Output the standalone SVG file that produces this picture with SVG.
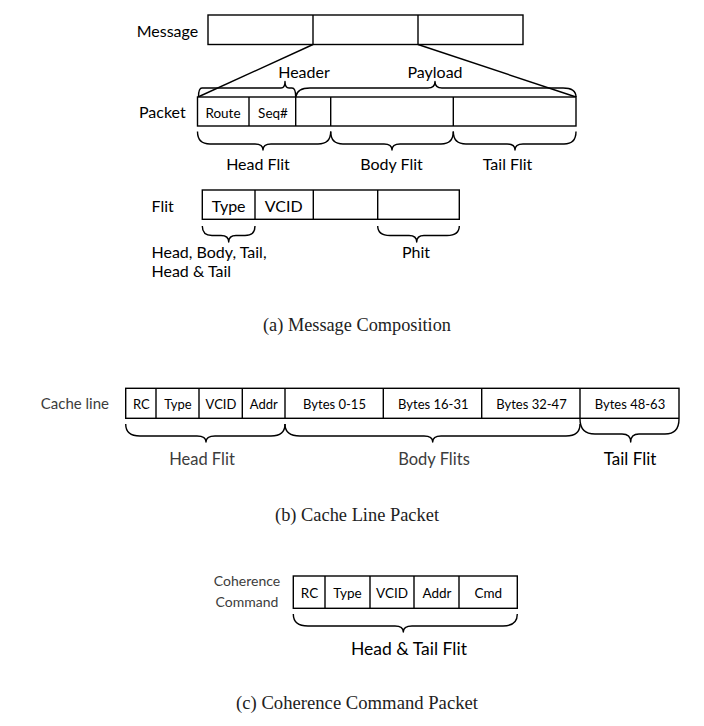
<svg xmlns="http://www.w3.org/2000/svg" width="704" height="726" viewBox="0 0 704 726">
<style>
  .box { fill: #fff; stroke: #000; stroke-width: 1.4; }
  .div { stroke: #000; stroke-width: 1.4; fill: none; }
  .brace { fill: none; stroke: #000; stroke-width: 1.4; stroke-linejoin: round; }
  .lbl { font-family: Lato, "Liberation Sans", sans-serif; font-size: 16px; fill: #000; }
  .in { font-family: Lato, "Liberation Sans", sans-serif; font-size: 13.5px; fill: #000; text-anchor: middle; }
  .mid { text-anchor: middle; }
  .gray { fill: #3c3c3c; }
  .cap { font-family: "Liberation Serif", serif; font-size: 18px; fill: #222; text-anchor: middle; }
</style>
<rect width="704" height="726" fill="#fff"/>

<!-- (a) Message composition -->
<g id="message">
  <text class="lbl" x="136.7" y="37">Message</text>
  <rect class="box" x="208" y="15" width="315" height="29.5"/>
  <line class="div" x1="313" y1="15" x2="313" y2="44.5"/>
  <line class="div" x1="418" y1="15" x2="418" y2="44.5"/>
</g>

<g id="connectors">
  <line class="div" x1="313" y1="44.5" x2="198" y2="97"/>
  <line class="div" x1="418" y1="44.5" x2="576" y2="97"/>
</g>

<g id="packet">
  <text class="lbl" x="139" y="118">Packet</text>
  <rect class="box" x="197.5" y="97" width="378.5" height="29"/>
  <line class="div" x1="249" y1="97" x2="249" y2="126"/>
  <line class="div" x1="295.7" y1="97" x2="295.7" y2="126"/>
  <line class="div" x1="330.7" y1="97" x2="330.7" y2="126"/>
  <line class="div" x1="453.3" y1="97" x2="453.3" y2="126"/>
  <text class="in" x="223" y="117.5">Route</text>
  <text class="in" x="273" y="117.5">Seq#</text>
</g>

<g id="header">
  <path class="brace" d="M198.5 97 Q198.5 88 202 88 L281 88 Q285 88 285 81.5 Q285 88 289 88 L292 88 Q295.7 88 295.7 97"/>
  <text class="lbl mid" x="304" y="78">Header</text>
</g>

<g id="payload">
  <path class="brace" d="M295.7 97 Q297 88 310 88 L428 88 Q435 88 435 81.5 Q435 88 442 88 L563 88 Q576 88 576 97"/>
  <text class="lbl mid" x="435" y="78">Payload</text>
</g>

<g id="head-flit">
  <path class="brace" d="M197.5 131.5 Q197.5 144 210 144 L255 144 Q263 144 263 150 Q263 144 271 144 L318 144 Q330.7 144 330.7 131.5"/>
  <text class="lbl mid" x="258" y="170">Head Flit</text>
</g>
<g id="body-flit">
  <path class="brace" d="M330.7 131.5 Q330.7 144 343 144 L384 144 Q392 144 392 150 Q392 144 400 144 L441 144 Q453.3 144 453.3 131.5"/>
  <text class="lbl mid" x="391.5" y="170">Body Flit</text>
</g>
<g id="tail-flit">
  <path class="brace" d="M453.3 131.5 Q453.3 144 466 144 L507 144 Q515 144 515 150 Q515 144 523 144 L564 144 Q576 144 576 131.5"/>
  <text class="lbl mid" x="507.5" y="170">Tail Flit</text>
</g>

<g id="flit">
  <text class="lbl" x="151.5" y="212">Flit</text>
  <rect class="box" x="202.3" y="190" width="257" height="29.3"/>
  <line class="div" x1="255" y1="190" x2="255" y2="219.3"/>
  <line class="div" x1="313.3" y1="190" x2="313.3" y2="219.3"/>
  <line class="div" x1="377.7" y1="190" x2="377.7" y2="219.3"/>
  <text class="lbl mid" x="228.7" y="211.5">Type</text>
  <text class="lbl mid" x="283.7" y="211.5">VCID</text>
</g>

<g id="type-values">
  <path class="brace" d="M202.3 226 Q202.3 235.5 212 235.5 L221 235.5 Q228.7 235.5 228.7 242 Q228.7 235.5 236 235.5 L245 235.5 Q255 235.5 255 226"/>
  <text class="lbl" x="151.5" y="258">Head, Body, Tail,</text>
  <text class="lbl" x="151.5" y="277">Head &amp; Tail</text>
</g>

<g id="phit">
  <path class="brace" d="M377.7 226 Q377.7 235.5 390 235.5 L409 235.5 Q416.7 235.5 416.7 242 Q416.7 235.5 424 235.5 L447 235.5 Q459.3 235.5 459.3 226"/>
  <text class="lbl mid" x="416" y="258">Phit</text>
</g>

<text class="cap" x="357" y="331" textLength="188" lengthAdjust="spacingAndGlyphs">(a) Message Composition</text>

<!-- (b) Cache line packet -->
<g id="cache-line">
  <text class="lbl gray" x="109" y="409" text-anchor="end" style="font-size:15px">Cache line</text>
  <rect class="box" x="125.7" y="388.3" width="553.3" height="30"/>
  <line class="div" x1="156" y1="388.3" x2="156" y2="418.3"/>
  <line class="div" x1="199" y1="388.3" x2="199" y2="418.3"/>
  <line class="div" x1="242.3" y1="388.3" x2="242.3" y2="418.3"/>
  <line class="div" x1="285" y1="388.3" x2="285" y2="418.3"/>
  <line class="div" x1="383.3" y1="388.3" x2="383.3" y2="418.3"/>
  <line class="div" x1="481.7" y1="388.3" x2="481.7" y2="418.3"/>
  <line class="div" x1="580" y1="388.3" x2="580" y2="418.3"/>
  <text class="in" x="141.3" y="408.5" style="font-size:13px">RC</text>
  <text class="in" x="178" y="408.5" style="font-size:13px">Type</text>
  <text class="in" x="221" y="408.5" style="font-size:13px">VCID</text>
  <text class="in" x="263.7" y="408.5" style="font-size:13px">Addr</text>
  <text class="in" x="334.5" y="408.5" style="font-size:13px">Bytes 0-15</text>
  <text class="in" x="433.3" y="408.5" style="font-size:13px">Bytes 16-31</text>
  <text class="in" x="531.5" y="408.5" style="font-size:13px">Bytes 32-47</text>
  <text class="in" x="630" y="408.5" style="font-size:13px">Bytes 48-63</text>
</g>

<g id="cl-head-flit">
  <path class="brace" d="M125.7 424 Q125.7 436 140 436 L197 436 Q206 436 206 442 Q206 436 215 436 L271 436 Q285 436 285 424"/>
  <text class="lbl gray mid" x="202" y="465" style="font-size:16.5px">Head Flit</text>
</g>
<g id="cl-body-flits">
  <path class="brace" d="M285 424 Q285 436 300 436 L424 436 Q432.7 436 432.7 442 Q432.7 436 441 436 L566 436 Q580 436 580 424"/>
  <text class="lbl gray mid" x="434" y="465" style="font-size:16.5px">Body Flits</text>
</g>
<g id="cl-tail-flit">
  <path class="brace" d="M580 419 Q580 434 595 434 L622 434 Q630.7 434 630.7 442 Q630.7 434 639 434 L665 434 Q679 434 679 419"/>
  <text class="lbl mid" x="630" y="465" style="font-size:17px">Tail Flit</text>
</g>

<text class="cap" x="357" y="521" textLength="164" lengthAdjust="spacingAndGlyphs">(b) Cache Line Packet</text>

<!-- (c) Coherence command packet -->
<g id="coherence">
  <text class="lbl gray mid" x="247" y="586" style="font-size:14px">Coherence</text>
  <text class="lbl gray mid" x="247" y="607" style="font-size:14px">Command</text>
  <rect class="box" x="293.3" y="576" width="224" height="32.3"/>
  <line class="div" x1="325" y1="576" x2="325" y2="608.3"/>
  <line class="div" x1="370" y1="576" x2="370" y2="608.3"/>
  <line class="div" x1="414" y1="576" x2="414" y2="608.3"/>
  <line class="div" x1="459" y1="576" x2="459" y2="608.3"/>
  <text class="in" x="309.5" y="598">RC</text>
  <text class="in" x="347.5" y="598">Type</text>
  <text class="in" x="392" y="598">VCID</text>
  <text class="in" x="437" y="598">Addr</text>
  <text class="in" x="488.3" y="598">Cmd</text>
</g>

<g id="head-tail-flit">
  <path class="brace" d="M293.3 614 Q293.3 626 308 626 L395 626 Q403.3 626 403.3 632 Q403.3 626 412 626 L503 626 Q517.3 626 517.3 614"/>
  <text class="lbl mid" x="409" y="655" style="font-size:17.5px">Head &amp; Tail Flit</text>
</g>

<text class="cap" x="357" y="709" textLength="242" lengthAdjust="spacingAndGlyphs">(c) Coherence Command Packet</text>
</svg>
